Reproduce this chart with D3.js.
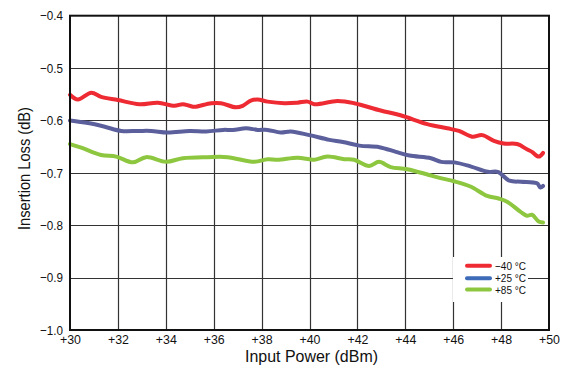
<!DOCTYPE html>
<html><head><meta charset="utf-8">
<script src="https://cdn.jsdelivr.net/npm/d3@7"></script>
<style>
body{margin:0;background:#fff;}
text{font-family:"Liberation Sans",Arial,Helvetica,sans-serif;fill:#111;}
</style></head>
<body><svg id="c" width="566" height="375"></svg>
<script>
const xTicks=[30,32,34,36,38,40,42,44,46,48,50];
const yTicks=[-0.4,-0.5,-0.6,-0.7,-0.8,-0.9,-1.0];
const seriesNames=["\u221240 \u00b0C","+25 \u00b0C","+85 \u00b0C"];
const redP=[30,30.33,30.89,31.3,32,32.9,33.67,34.36,34.71,34.99,35.2,35.89,36.3,36.93,37.21,37.55,37.83,38.25,38.95,39.5,39.92,40.2,41.17,41.86,42.97,43.8,44.92,45.75,46.24,46.79,47.21,47.7,48.11,48.67,49.08,49.29,49.57,49.75];
const redV=[-0.551,-0.560,-0.547,-0.555,-0.561,-0.569,-0.566,-0.572,-0.569,-0.572,-0.574,-0.567,-0.567,-0.575,-0.572,-0.562,-0.560,-0.564,-0.567,-0.566,-0.564,-0.569,-0.563,-0.567,-0.581,-0.590,-0.607,-0.615,-0.620,-0.631,-0.628,-0.639,-0.644,-0.645,-0.655,-0.660,-0.669,-0.662];
const blueP=[30,30.75,31.45,32.14,32.83,33.39,34.08,34.99,35.69,36.39,36.8,37.36,37.83,38.25,38.8,39.22,39.99,40.83,41.39,42.08,42.92,43.61,44.17,45.07,45.5,46.05,46.75,47.45,47.86,48.35,48.83,49.5,49.64,49.75];
const blueV=[-0.600,-0.605,-0.612,-0.620,-0.620,-0.620,-0.623,-0.620,-0.621,-0.618,-0.618,-0.615,-0.618,-0.618,-0.623,-0.621,-0.628,-0.637,-0.641,-0.648,-0.651,-0.660,-0.667,-0.672,-0.679,-0.680,-0.688,-0.698,-0.698,-0.715,-0.717,-0.720,-0.728,-0.725];
const greenP=[30,30.47,31.3,31.93,32.63,33.18,34.01,34.71,35.75,36.58,37.7,38.25,38.67,39.5,39.99,40.2,40.75,41.45,41.86,42.49,42.9,43.39,44.08,44.99,45.47,46.03,46.72,47.42,47.9,48.25,48.8,49.08,49.29,49.57,49.75];
const greenV=[-0.645,-0.652,-0.666,-0.669,-0.680,-0.670,-0.679,-0.672,-0.670,-0.670,-0.679,-0.674,-0.675,-0.671,-0.674,-0.675,-0.669,-0.674,-0.675,-0.687,-0.679,-0.689,-0.693,-0.704,-0.710,-0.716,-0.726,-0.744,-0.749,-0.755,-0.774,-0.782,-0.780,-0.793,-0.795];
const lineColors=["#ee2a33","#5b5f9b","#8dc63f"];
const legendColors=["#ee2a33","#3d6bb8","#8dc63f"];

const svg=d3.select("#c");
const L=70,R=549,T=15.7,B=330;
const x=d3.scaleLinear().domain([30,50]).range([L,R]);
const y=d3.scaleLinear().domain([-1.0,-0.4]).range([B,T]);
const fmtY=v=>(v<0?"\u2212":"")+Math.abs(v).toFixed(1);
const fmtX=v=>"+"+v;

// grid
svg.append("g").selectAll("line").data(xTicks.slice(1,-1)).join("line")
 .attr("x1",d=>Math.round(x(d))+0.5).attr("x2",d=>Math.round(x(d))+0.5).attr("y1",T).attr("y2",B)
 .attr("stroke","#333").attr("stroke-width",1.2);
svg.append("g").selectAll("line").data(yTicks.slice(1,-1)).join("line")
 .attr("y1",d=>Math.round(y(d))+0.5).attr("y2",d=>Math.round(y(d))+0.5).attr("x1",L).attr("x2",R)
 .attr("stroke","#333").attr("stroke-width",1.2);

// axes labels via d3 axes
const xAxis=d3.axisBottom(x).tickValues(xTicks).tickFormat(fmtX).tickSize(0).tickPadding(5);
const gx=svg.append("g").attr("transform",`translate(0,${B})`).call(xAxis);
gx.select(".domain").remove();
gx.selectAll("text").attr("font-size",13).style("font-family",'"Liberation Sans",Arial,sans-serif').attr("fill","#111")
  .attr("textLength",21).attr("lengthAdjust","spacingAndGlyphs");
const yAxis=d3.axisLeft(y).tickValues(yTicks).tickFormat(fmtY).tickSize(0).tickPadding(7);
const gy=svg.append("g").attr("transform",`translate(${L},0)`).call(yAxis);
gy.select(".domain").remove();
gy.selectAll("text").attr("font-size",13).style("font-family",'"Liberation Sans",Arial,sans-serif').attr("fill","#111")
  .attr("textLength",23).attr("lengthAdjust","spacingAndGlyphs");

// lines
const sets=[[redP,redV],[blueP,blueV],[greenP,greenV]];
const line=d3.line().x(d=>x(d[0])).y(d=>y(d[1])).curve(d3.curveCatmullRom.alpha(0.5));
sets.forEach((s,i)=>{
  const data=s[0].map((p,j)=>[p,s[1][j]]);
  svg.append("path").datum(data).attr("d",line).attr("fill","none")
   .attr("stroke",lineColors[i]).attr("stroke-width",4).attr("stroke-linejoin","round").attr("stroke-linecap","round");
});

// frame
svg.append("rect").attr("x",L).attr("y",T).attr("width",R-L).attr("height",B-T)
 .attr("fill","none").attr("stroke","#111").attr("stroke-width",2);

// legend
const lg=svg.append("g");
lg.append("rect").attr("x",453).attr("y",257).attr("width",75).attr("height",45).attr("fill","#fff");
seriesNames.forEach((n,i)=>{
  const yy=[265.7,278.3,289.5][i];
  lg.append("line").attr("x1",467).attr("x2",490).attr("y1",yy).attr("y2",yy)
   .attr("stroke",legendColors[i]).attr("stroke-width",4).attr("stroke-linecap","round");
  lg.append("text").attr("x",495).attr("y",yy+4).attr("font-size",11.5).attr("textLength",31).attr("lengthAdjust","spacingAndGlyphs").text(n);
});

// titles
svg.append("text").attr("x",311.5).attr("y",362).attr("text-anchor","middle").attr("font-size",17)
 .attr("textLength",133).attr("lengthAdjust","spacingAndGlyphs").text("Input Power (dBm)");
svg.append("text").attr("transform","translate(30,168.5) rotate(-90)").attr("text-anchor","middle").attr("font-size",17)
 .attr("textLength",123).attr("lengthAdjust","spacingAndGlyphs").text("Insertion Loss (dB)");
</script></body></html>
